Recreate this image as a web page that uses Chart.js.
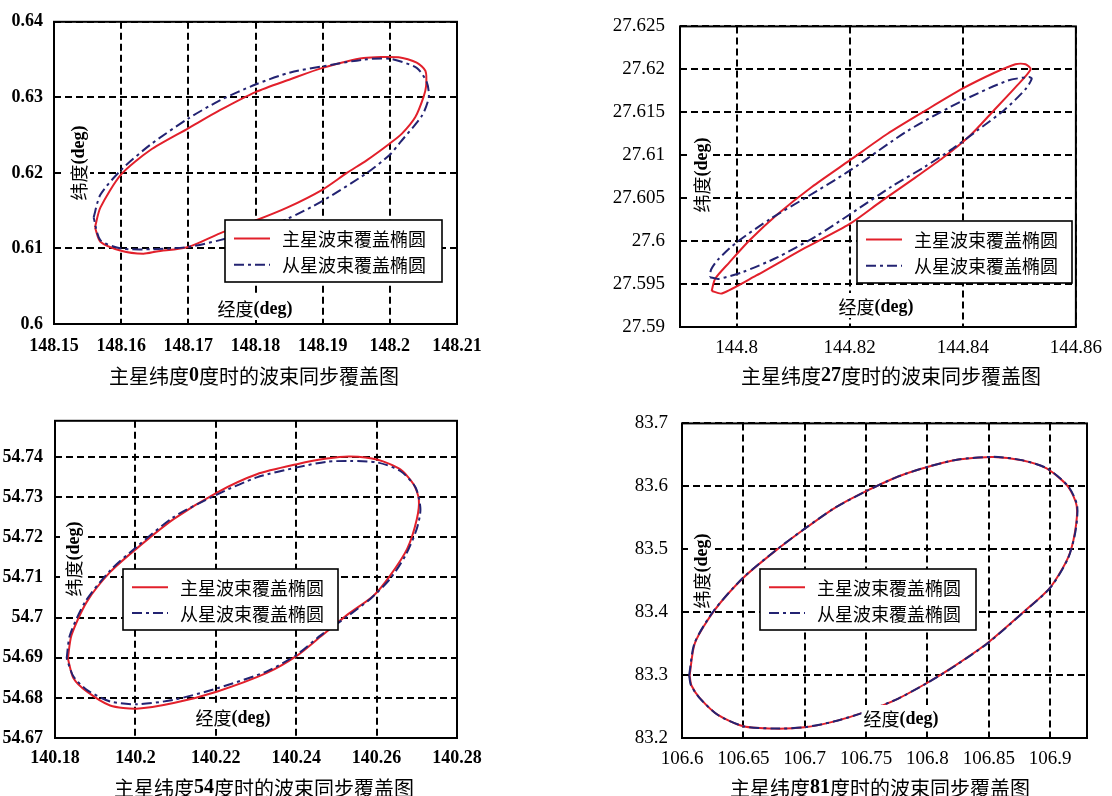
<!DOCTYPE html>
<html>
<head>
<meta charset="utf-8">
<script src="https://cdn.jsdelivr.net/npm/chart.js@4.4.0/dist/chart.umd.min.js"></script>
<style>
  html, body { margin: 0; padding: 0; background: #fff; }
  body { width: 1112px; height: 796px; position: relative; overflow: hidden; }
  .panel { position: absolute; width: 556px; height: 398px; }
</style>
</head>
<body>
<div class="panel" style="left:0;top:0"><canvas id="c1" width="556" height="398"></canvas></div>
<div class="panel" style="left:556px;top:0"><canvas id="c2" width="556" height="398"></canvas></div>
<div class="panel" style="left:0;top:398px"><canvas id="c3" width="556" height="398"></canvas></div>
<div class="panel" style="left:556px;top:398px"><canvas id="c4" width="556" height="398"></canvas></div>
<script>
// ---------- text ----------
const mainLabel = '主星波束覆盖椭圆';
const subLabel = '从星波束覆盖椭圆';
const lonTitle = '经度(deg)';
const latTitle = '纬度(deg)';
const captions = [
  '主星纬度0度时的波束同步覆盖图',
  '主星纬度27度时的波束同步覆盖图',
  '主星纬度54度时的波束同步覆盖图',
  '主星纬度81度时的波束同步覆盖图'
];

// ---------- tick values ----------
const p1XTicks = [148.15, 148.16, 148.17, 148.18, 148.19, 148.2, 148.21];
const p1YTicks = [0.6, 0.61, 0.62, 0.63, 0.64];
const p2XTicks = [144.8, 144.82, 144.84, 144.86];
const p2YTicks = [27.59, 27.595, 27.6, 27.605, 27.61, 27.615, 27.62, 27.625];
const p3XTicks = [140.18, 140.2, 140.22, 140.24, 140.26, 140.28];
const p3YTicks = [54.67, 54.68, 54.69, 54.7, 54.71, 54.72, 54.73, 54.74];
const p4XTicks = [106.6, 106.65, 106.7, 106.75, 106.8, 106.85, 106.9];
const p4YTicks = [83.2, 83.3, 83.4, 83.5, 83.6, 83.7];

// ---------- axis ranges ----------
const p1Range = { xMin: 148.15, xMax: 148.21, yMin: 0.6, yMax: 0.64 };
const p2Range = { xMin: 144.79, xMax: 144.86, yMin: 27.59, yMax: 27.625 };
const p3Range = { xMin: 140.18, xMax: 140.28, yMin: 54.67, yMax: 54.749 };
const p4Range = { xMin: 106.6, xMax: 106.93, yMin: 83.2, yMax: 83.7 };

// ---------- beam footprint outlines (longitude / latitude, deg) ----------
// latitude 0
const p1MainLon = [148.1561, 148.1569, 148.16, 148.1643, 148.17, 148.1747, 148.18, 148.1852, 148.19, 148.1961, 148.2013, 148.204, 148.2053, 148.2054, 148.205, 148.2038, 148.2018, 148.2, 148.1966, 148.1936, 148.19, 148.1847, 148.18, 148.1747, 148.17, 148.1653, 148.1633, 148.16, 148.1569];
const p1MainLat = [0.6128, 0.6154, 0.6198, 0.623, 0.6259, 0.6283, 0.6307, 0.6324, 0.6339, 0.6352, 0.6353, 0.6346, 0.6335, 0.6315, 0.63, 0.6274, 0.6252, 0.6239, 0.6217, 0.62, 0.6178, 0.6154, 0.6137, 0.612, 0.6102, 0.6096, 0.6093, 0.6097, 0.6109];
const p1SubLon = [148.1559, 148.1569, 148.16, 148.1643, 148.17, 148.1747, 148.18, 148.1852, 148.19, 148.1961, 148.2, 148.204, 148.2055, 148.2058, 148.2048, 148.2016, 148.2, 148.1966, 148.19, 148.1847, 148.18, 148.1747, 148.17, 148.1648, 148.16, 148.1569];
const p1SubLat = [0.6141, 0.6171, 0.6204, 0.6237, 0.6272, 0.6296, 0.6317, 0.6333, 0.6341, 0.635, 0.6351, 0.6339, 0.632, 0.63, 0.6276, 0.6241, 0.6224, 0.62, 0.6163, 0.6139, 0.6124, 0.6111, 0.6102, 0.6099, 0.61, 0.6111];

// latitude 27
const p2MainLon = [144.7956, 144.7974, 144.8035, 144.8121, 144.82, 144.8255, 144.8316, 144.8365, 144.8413, 144.8456, 144.8493, 144.852, 144.8511, 144.8493, 144.8456, 144.8401, 144.8334, 144.8267, 144.82, 144.8133, 144.8072, 144.8023, 144.7987, 144.7962];
const p2MainLat = [27.5942, 27.5939, 27.596, 27.5992, 27.602, 27.6046, 27.6074, 27.6097, 27.6123, 27.6153, 27.6179, 27.62, 27.6206, 27.6206, 27.6196, 27.6178, 27.6152, 27.6125, 27.6094, 27.6063, 27.6031, 27.6001, 27.5975, 27.5956];
const p2SubLon = [144.7953, 144.7968, 144.8011, 144.8072, 144.8139, 144.82, 144.8273, 144.8334, 144.8383, 144.8426, 144.8474, 144.8511, 144.8522, 144.8517, 144.848, 144.8401, 144.8304, 144.82, 144.8121, 144.806, 144.7999, 144.7968, 144.7955];
const p2SubLat = [27.5958, 27.5956, 27.5964, 27.5981, 27.6005, 27.6031, 27.6063, 27.6087, 27.6108, 27.6129, 27.6153, 27.6177, 27.6189, 27.6191, 27.6187, 27.6164, 27.6129, 27.6082, 27.605, 27.6026, 27.5998, 27.5979, 27.5967];

// latitude 54
const p3MainLon = [140.1832, 140.1841, 140.1879, 140.1937, 140.2002, 140.2095, 140.2204, 140.2302, 140.2402, 140.2476, 140.2534, 140.2603, 140.2659, 140.2692, 140.2705, 140.27, 140.2676, 140.2634, 140.2593, 140.2526, 140.246, 140.2402, 140.2327, 140.2204, 140.2095, 140.2003, 140.1937, 140.1879, 140.1846];
const p3MainLat = [54.6898, 54.6956, 54.7039, 54.7113, 54.7171, 54.7245, 54.7312, 54.7357, 54.7382, 54.7396, 54.7401, 54.7393, 54.7369, 54.7332, 54.7295, 54.7245, 54.7171, 54.7105, 54.7055, 54.7006, 54.6952, 54.6905, 54.6862, 54.6816, 54.6787, 54.6773, 54.6781, 54.6816, 54.6849];
const p3SubLon = [140.1829, 140.1837, 140.1875, 140.1937, 140.2002, 140.2095, 140.2204, 140.2302, 140.2402, 140.2476, 140.2534, 140.2603, 140.2659, 140.2697, 140.2709, 140.27, 140.2672, 140.2634, 140.2585, 140.2526, 140.246, 140.2402, 140.2327, 140.2204, 140.2095, 140.2003, 140.1937, 140.1879, 140.1846];
const p3SubLat = [54.6898, 54.6956, 54.7039, 54.7117, 54.7175, 54.725, 54.7307, 54.7349, 54.7374, 54.7388, 54.739, 54.7386, 54.7365, 54.7324, 54.727, 54.7221, 54.7155, 54.7097, 54.7047, 54.7002, 54.6955, 54.6908, 54.6866, 54.6824, 54.6795, 54.6784, 54.6791, 54.682, 54.6853];

// latitude 81
const p4MainLon = [106.6062, 106.6105, 106.6264, 106.65, 106.6753, 106.7, 106.7243, 106.75, 106.7762, 106.8006, 106.8251, 106.8539, 106.8769, 106.8971, 106.9144, 106.9216, 106.9202, 106.9144, 106.9, 106.8798, 106.849, 106.8222, 106.8006, 106.7762, 106.75, 106.7243, 106.7, 106.6753, 106.65, 106.6293, 106.6149, 106.6077];
const p4MainLat = [83.299, 83.3509, 83.4028, 83.4547, 83.4962, 83.5325, 83.5655, 83.5922, 83.6156, 83.6311, 83.6426, 83.6467, 83.6415, 83.6285, 83.6, 83.5689, 83.5273, 83.4858, 83.4391, 83.4028, 83.3509, 83.3146, 83.2886, 83.2627, 83.2419, 83.2264, 83.217, 83.2149, 83.2186, 83.2367, 83.2627, 83.2835];
const p4SubLon = [106.6058, 106.6103, 106.6262, 106.6499, 106.6752, 106.7, 106.7244, 106.7501, 106.7763, 106.8007, 106.8252, 106.854, 106.877, 106.8973, 106.9147, 106.922, 106.9205, 106.9146, 106.9001, 106.8799, 106.8491, 106.8223, 106.8006, 106.7762, 106.75, 106.7243, 106.7, 106.6752, 106.6499, 106.629, 106.6146, 106.6073];
const p4SubLat = [83.2995, 83.3512, 83.4031, 83.455, 83.4964, 83.5327, 83.5657, 83.5923, 83.6157, 83.6312, 83.6427, 83.6468, 83.6416, 83.6286, 83.6001, 83.5689, 83.5272, 83.4856, 83.4389, 83.4026, 83.3507, 83.3144, 83.2885, 83.2627, 83.2419, 83.2265, 83.2171, 83.215, 83.2188, 83.2369, 83.2629, 83.2838];

// ---------- drawing helpers ----------
const RED = '#e2202b';
const NAVY = '#232372';
const SERIF = '"Liberation Serif", "Times New Roman", serif';
const CJK = '"Noto Sans CJK SC", "Noto Sans CJK JP", sans-serif';
const CJK_RE = /[\u3400-\u9fff]/;

function closedLoop(lon, lat) {
  const pts = lon.map((x, i) => ({ x: x, y: lat[i] }));
  pts.push(pts[0]);
  return pts;
}

function runFont(run, size) {
  return CJK_RE.test(run) ? `${size}px ${CJK}` : `bold ${size}px ${SERIF}`;
}

// draws text made of CJK and Latin runs, centred on (cx, cy), optionally rotated
function drawMixed(ctx, text, cx, cy, size, angle, whiteBack) {
  const runs = text.match(/[\u3400-\u9fff]+|[^\u3400-\u9fff]+/g);
  ctx.save();
  ctx.translate(cx, cy);
  ctx.rotate(angle || 0);
  let total = 0;
  const widths = runs.map(r => { ctx.font = runFont(r, size); const w = ctx.measureText(r).width; total += w; return w; });
  if (whiteBack) {
    ctx.fillStyle = '#fff';
    ctx.fillRect(-total / 2 - 2, -size / 2 - 4, total + 4, size + 7);
  }
  ctx.fillStyle = '#000';
  ctx.textBaseline = 'middle';
  ctx.textAlign = 'left';
  let x = -total / 2;
  runs.forEach((r, i) => { ctx.font = runFont(r, size); ctx.fillText(r, x, 1); x += widths[i]; });
  ctx.restore();
}

const decorPlugin = {
  id: 'decor',
  afterDatasetsDraw(chart, args, opts) {
    const ctx = chart.ctx;
    const a = chart.chartArea;
    // axis titles placed inside the plot frame
    drawMixed(ctx, lonTitle, opts.xTitle[0], opts.xTitle[1], 18, 0, true);
    drawMixed(ctx, latTitle, opts.yTitle[0], opts.yTitle[1], 18, -Math.PI / 2, true);

    // legend box
    const L = opts.legend;
    ctx.save();
    ctx.fillStyle = '#fff';
    ctx.fillRect(L.x, L.y, L.w, L.h);
    ctx.strokeStyle = '#000';
    ctx.lineWidth = 1.6;
    ctx.strokeRect(L.x, L.y, L.w, L.h);
    const rows = chart.data.datasets.slice().sort((p, q) => q.order - p.order);
    rows.forEach((ds, i) => {
      const ry = L.y + L.h * (i === 0 ? 0.3 : 0.72);
      ctx.beginPath();
      ctx.strokeStyle = ds.borderColor;
      ctx.lineWidth = 2;
      ctx.setLineDash(ds.borderDash || []);
      ctx.moveTo(L.x + 9, ry);
      ctx.lineTo(L.x + 45, ry);
      ctx.stroke();
      ctx.setLineDash([]);
      ctx.fillStyle = '#000';
      ctx.font = `${L.size}px ${CJK}`;
      ctx.textBaseline = 'middle';
      ctx.textAlign = 'left';
      ctx.fillText(ds.label, L.x + 57, ry + 1);
    });
    ctx.restore();

    // plot frame
    ctx.save();
    ctx.strokeStyle = '#000';
    ctx.lineWidth = 2;
    ctx.strokeRect(a.left, a.top, a.right - a.left, a.bottom - a.top);
    ctx.restore();

    // caption under the panel
    drawMixed(ctx, opts.caption, opts.captionPos[0], opts.captionPos[1], 20, 0, false);
  }
};

function makeChart(id, series, ticks, range, geom, decor, boldTicks) {
  const tickFont = { family: SERIF, size: geom.tickSize, weight: boldTicks ? 'bold' : 'normal' };
  const grid = { color: '#000', lineWidth: 2, drawTicks: false };
  const border = { display: false, dash: [7, 4] };
  return new Chart(document.getElementById(id), {
    type: 'scatter',
    data: {
      datasets: [
        {
          label: mainLabel, data: closedLoop(series.mainLon, series.mainLat),
          showLine: true, borderColor: RED, borderWidth: 2, pointRadius: 0,
          tension: 0.25, order: 2
        },
        {
          label: subLabel, data: closedLoop(series.subLon, series.subLat),
          showLine: true, borderColor: NAVY, borderWidth: 2, pointRadius: 0,
          borderDash: [10, 4, 3, 4], tension: 0.25, order: 1
        }
      ]
    },
    options: {
      responsive: false,
      animation: false,
      events: [],
      layout: { padding: { left: 0, top: geom.top, right: geom.right, bottom: 0 } },
      plugins: { legend: { display: false }, tooltip: { enabled: false }, decor: decor },
      scales: {
        x: {
          type: 'linear', min: range.xMin, max: range.xMax,
          grid: grid, border: border,
          afterBuildTicks: s => { s.ticks = ticks.x.map(v => ({ value: v })); },
          afterFit: s => { s.height = geom.xAxisH; },
          ticks: {
            font: tickFont, color: '#000', padding: geom.xPad,
            autoSkip: false, minRotation: 0, maxRotation: 0,
            callback: v => String(v)
          }
        },
        y: {
          type: 'linear', min: range.yMin, max: range.yMax,
          grid: grid, border: border,
          afterBuildTicks: s => { s.ticks = ticks.y.map(v => ({ value: v })); },
          afterFit: s => { s.width = geom.yAxisW; },
          ticks: {
            font: tickFont, color: '#000', padding: geom.yPad,
            autoSkip: false, callback: v => String(v)
          }
        }
      }
    },
    plugins: [decorPlugin]
  });
}

makeChart('c1',
  { mainLon: p1MainLon, mainLat: p1MainLat, subLon: p1SubLon, subLat: p1SubLat },
  { x: p1XTicks, y: p1YTicks }, p1Range,
  { top: 17, right: 99, xAxisH: 74, yAxisW: 54, xPad: 12, yPad: 11, tickSize: 18 },
  { xTitle: [255, 308], yTitle: [78, 163], legend: { x: 225, y: 220, w: 217, h: 62, size: 18 },
    caption: captions[0], captionPos: [254, 375] }, true);

makeChart('c2',
  { mainLon: p2MainLon, mainLat: p2MainLat, subLon: p2SubLon, subLat: p2SubLat },
  { x: p2XTicks, y: p2YTicks }, p2Range,
  { top: 16, right: 27, xAxisH: 71, yAxisW: 124, xPad: 10, yPad: 15, tickSize: 19 },
  { xTitle: [320, 306], yTitle: [145, 175], legend: { x: 301, y: 221, w: 215, h: 62, size: 18 },
    caption: captions[1], captionPos: [335, 375] }, false);

makeChart('c3',
  { mainLon: p3MainLon, mainLat: p3MainLat, subLon: p3SubLon, subLat: p3SubLat },
  { x: p3XTicks, y: p3YTicks }, p3Range,
  { top: 19, right: 99, xAxisH: 58, yAxisW: 55, xPad: 10, yPad: 12, tickSize: 18 },
  { xTitle: [233, 319], yTitle: [73, 161], legend: { x: 123, y: 171, w: 215, h: 61, size: 18 },
    caption: captions[2], captionPos: [264, 389] }, true);

makeChart('c4',
  { mainLon: p4MainLon, mainLat: p4MainLat, subLon: p4SubLon, subLat: p4SubLat },
  { x: p4XTicks, y: p4YTicks }, p4Range,
  { top: 19, right: 25, xAxisH: 58, yAxisW: 126, xPad: 10, yPad: 14, tickSize: 19 },
  { xTitle: [345, 320], yTitle: [145, 173], legend: { x: 204, y: 171, w: 216, h: 61, size: 18 },
    caption: captions[3], captionPos: [324, 389] }, false);
</script>
</body>
</html>
